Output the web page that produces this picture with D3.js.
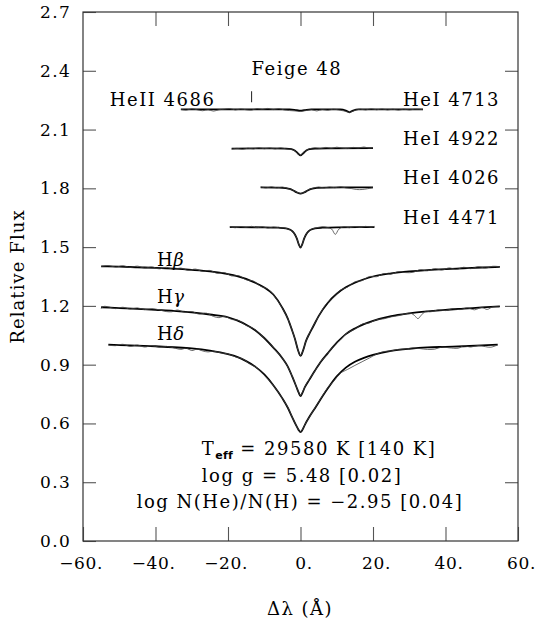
<!DOCTYPE html>
<html>
<head>
<meta charset="utf-8">
<script src="https://cdn.jsdelivr.net/npm/d3@7"></script>
<style>
body { margin: 0; background: #fff; }
text { font-family: "DejaVu Serif", serif; fill: #000; }
</style>
</head>
<body>
<svg id="chart" width="539" height="623"></svg>
<script>
// axis values
const xTicks = [-60, -40, -20, 0, 20, 40, 60];
const xTickLabels = ["\u221260.", "\u221240.", "\u221220.", "0.", "20.", "40.", "60."];
const yTicks = [0, 0.3, 0.6, 0.9, 1.2, 1.5, 1.8, 2.1, 2.4, 2.7];
const yTickLabels = ["0.0", "0.3", "0.6", "0.9", "1.2", "1.5", "1.8", "2.1", "2.4", "2.7"];

// HeII 4686 (offset 2.2)
const heII4686Model = [[-33,2.203],[-3,2.203],[-1,2.199],[0,2.197],[1,2.199],[3,2.203],[11,2.203],[12.5,2.197],[13.5,2.188],[14.5,2.197],[16,2.203],[33.8,2.203]];
const heII4686Obs = [[-33,2.203],[-31.5,2.199],[-30,2.206],[-28.5,2.201],[-27,2.196],[-25.5,2.201],[-24,2.194],[-22.5,2.201],[-21,2.204],[-19.5,2.207],[-18,2.2],[-16.5,2.205],[-15,2.201],[-13.5,2.199],[-12,2.207],[-10.5,2.203],[-9,2.208],[-7.5,2.202],[-6,2.207],[-4.5,2.2],[-3,2.197],[-1.5,2.195],[0,2.192],[1.5,2.197],[3,2.201],[4.5,2.195],[6,2.202],[7.5,2.198],[9,2.204],[10.5,2.2],[12,2.195],[13.5,2.188],[15,2.198],[16.5,2.204],[18,2.2],[19.5,2.206],[21,2.201],[22.5,2.205],[24,2.2],[25.5,2.204],[27,2.199],[28.5,2.204],[30,2.2],[31.5,2.204],[33.8,2.202]];
const heII4686Marker = [-13.5, 2.24, 2.295];

// HeI 4922 (offset 2.0)
const heI4922Model = [[-19,2.003],[-8,2.004],[-4,2.003],[-2.5,2.0],[-1.5,1.992],[-0.7,1.978],[0,1.968],[0.7,1.978],[1.5,1.992],[2.5,2.0],[4,2.003],[8,2.004],[20,2.005]];
const heI4922Obs = [[-19,2.0],[-17.5,2.004],[-16,1.999],[-14.5,2.005],[-13,2.001],[-11.5,2.007],[-10,2.002],[-8.5,2.006],[-7,2.001],[-5.5,2.007],[-4,2.001],[-2.5,1.998],[-1.5,1.991],[-0.7,1.977],[0,1.969],[0.7,1.979],[1.5,1.993],[2.5,2.002],[4,2.007],[5.5,2.003],[7,2.009],[8.5,2.004],[10,2.01],[11.5,2.005],[13,2.003],[14.5,2.009],[16,2.006],[17.5,2.011],[19,2.005],[20,2.007]];

// HeI 4026 (offset 1.8)
const heI4026Model = [[-11,1.805],[-6,1.804],[-4,1.801],[-3,1.797],[-2,1.789],[-1,1.779],[0,1.773],[1,1.779],[2,1.789],[3,1.797],[4.5,1.802],[7,1.804],[20,1.805]];
const heI4026Obs = [[-11,1.807],[-9.5,1.802],[-8,1.808],[-6.5,1.802],[-5,1.807],[-3.5,1.799],[-2,1.79],[-1,1.78],[0,1.774],[1,1.778],[2,1.791],[3.5,1.801],[5,1.807],[6.5,1.802],[8,1.807],[9.5,1.803],[11,1.808],[12.5,1.802],[14,1.799],[15.5,1.794],[17,1.794],[18.5,1.798],[20,1.803]];

// HeI 4471 (offset 1.6)
const heI4471Model = [[-19.5,1.602],[-10,1.601],[-6,1.599],[-4,1.596],[-3,1.59],[-2.2,1.58],[-1.5,1.563],[-1,1.543],[-0.5,1.515],[0,1.498],[0.5,1.515],[1,1.543],[1.5,1.563],[2.2,1.58],[3,1.59],[4,1.596],[6,1.599],[10,1.601],[20.4,1.602]];
const heI4471Obs = [[-19.5,1.604],[-18,1.599],[-16.5,1.605],[-15,1.601],[-13.5,1.606],[-12,1.599],[-10.5,1.604],[-9,1.597],[-7.5,1.603],[-6,1.599],[-4.5,1.598],[-3,1.589],[-2.2,1.579],[-1.5,1.562],[-1,1.544],[-0.5,1.516],[0,1.499],[0.5,1.514],[1,1.545],[1.5,1.564],[2.2,1.582],[3,1.591],[4.5,1.599],[6,1.604],[7.5,1.6],[8.6,1.592],[9.6,1.565],[10.6,1.592],[12,1.604],[13.5,1.599],[15,1.605],[16.5,1.6],[18,1.606],[19.5,1.601],[20.4,1.606]];

// H beta (offset 1.4)
const hBetaModel = [[-55,1.402],[-50,1.4],[-45,1.397],[-40,1.394],[-35,1.39],[-30,1.384],[-25,1.376],[-20,1.362],[-17.5,1.352],[-15,1.338],[-12.5,1.318],[-10,1.294],[-7.5,1.258],[-5,1.19],[-3.5,1.135],[-2.5,1.085],[-1.5,1.03],[-0.7,0.975],[0,0.945],[0.7,0.972],[1.5,1.02],[2.5,1.06],[3.5,1.095],[5,1.148],[7.5,1.215],[10,1.262],[12.5,1.295],[15,1.318],[17.5,1.336],[20,1.35],[25,1.366],[30,1.376],[35,1.383],[40,1.388],[45,1.392],[50,1.396],[55,1.399]];
const hBetaObs = [[-55,1.401],[-53,1.406],[-51,1.398],[-49,1.405],[-47,1.396],[-45,1.403],[-43,1.393],[-41,1.399],[-39,1.389],[-37,1.397],[-35,1.387],[-33,1.393],[-31,1.381],[-29,1.388],[-27,1.376],[-25,1.381],[-23,1.366],[-21,1.37],[-19,1.353],[-17,1.354],[-15,1.333],[-13,1.327],[-11,1.3],[-9,1.286],[-7,1.244],[-5,1.188],[-3.5,1.135],[-2.5,1.085],[-1.5,1.03],[-0.7,0.975],[0,0.947],[0.7,0.972],[1.5,1.02],[2.5,1.062],[3.5,1.098],[5,1.146],[7,1.208],[9,1.241],[11,1.28],[13,1.296],[15,1.323],[17,1.329],[19,1.35],[21,1.349],[23,1.365],[25,1.362],[27,1.375],[29,1.37],[31,1.371],[33,1.385],[35,1.379],[37,1.39],[39,1.383],[41,1.394],[43,1.386],[45,1.397],[47,1.39],[49,1.4],[51,1.393],[53,1.402],[55,1.4]];

// H gamma (offset 1.2)
const hGammaModel = [[-55,1.193],[-50,1.189],[-45,1.185],[-40,1.18],[-35,1.175],[-30,1.167],[-25,1.156],[-20,1.142],[-17.5,1.126],[-15,1.104],[-12.5,1.076],[-10,1.036],[-7.5,0.987],[-5,0.933],[-3.5,0.89],[-2.3,0.84],[-1.2,0.79],[-0.5,0.757],[0,0.739],[0.5,0.755],[1.2,0.785],[2.5,0.825],[4,0.87],[5.5,0.912],[7.5,0.958],[10,1.012],[12.5,1.056],[15,1.085],[17.5,1.107],[20,1.124],[25,1.148],[30,1.162],[35,1.172],[40,1.18],[45,1.186],[50,1.192],[55,1.198]];
const hGammaObs = [[-55,1.186],[-54.3,1.197],[-53,1.195],[-51,1.186],[-49,1.193],[-47,1.184],[-45,1.19],[-43,1.181],[-41,1.186],[-39,1.18],[-37,1.171],[-35.5,1.17],[-34,1.179],[-32,1.168],[-30,1.171],[-28,1.158],[-26,1.163],[-24,1.146],[-22.5,1.14],[-21,1.146],[-19,1.131],[-17,1.125],[-15,1.1],[-13,1.085],[-11,1.052],[-9,1.021],[-7,0.975],[-5,0.934],[-3.5,0.888],[-2.3,0.842],[-1.2,0.79],[-0.5,0.758],[0,0.741],[0.5,0.757],[1.2,0.787],[2.5,0.828],[4,0.868],[5.5,0.914],[7.5,0.955],[9,0.995],[11,1.026],[13,1.064],[15,1.081],[17,1.107],[19,1.113],[21,1.13],[23,1.134],[25,1.144],[27,1.15],[29,1.16],[30.5,1.162],[31.5,1.15],[32.4,1.135],[33.3,1.152],[34.5,1.172],[36,1.17],[38,1.18],[40,1.176],[42,1.186],[44,1.181],[46,1.19],[48,1.18],[50,1.192],[51.5,1.182],[53,1.195],[54.8,1.195]];

// H delta (offset 1.0)
const hDeltaModel = [[-53,1.002],[-50,1.0],[-45,0.997],[-40,0.994],[-35,0.989],[-30,0.983],[-25,0.972],[-20,0.954],[-17.5,0.94],[-15,0.918],[-12.5,0.89],[-10,0.85],[-7.5,0.795],[-5,0.728],[-3.5,0.68],[-2.3,0.632],[-1.2,0.59],[-0.5,0.566],[0,0.556],[0.5,0.566],[1.2,0.593],[2.5,0.635],[4,0.678],[5.5,0.722],[7.5,0.778],[10,0.84],[12.5,0.885],[15,0.915],[17.5,0.935],[20,0.95],[25,0.97],[30,0.981],[35,0.988],[40,0.991],[45,0.994],[50,0.998],[54.4,1.002]];
const hDeltaObs = [[-53,1.0],[-51,0.997],[-49,1.004],[-47,0.993],[-45,1.0],[-43,0.99],[-41,0.997],[-39,0.989],[-37,0.993],[-35,0.986],[-33,0.978],[-31.5,0.984],[-30,0.972],[-28.5,0.979],[-27,0.97],[-25.5,0.965],[-24,0.969],[-22,0.96],[-20,0.955],[-18,0.94],[-16,0.93],[-14,0.904],[-12,0.884],[-10,0.846],[-8,0.806],[-6,0.756],[-5,0.728],[-3.5,0.682],[-2.3,0.633],[-1.2,0.59],[-0.5,0.567],[0,0.557],[0.5,0.567],[1.2,0.594],[2.5,0.634],[4,0.68],[5.5,0.724],[7.5,0.782],[9,0.813],[11,0.856],[13,0.876],[15,0.896],[17,0.915],[19,0.934],[21,0.954],[23,0.967],[25,0.97],[27,0.978],[29,0.98],[31,0.986],[33,0.982],[35,0.978],[37,0.979],[39,0.99],[41,0.986],[43.5,0.984],[45,0.996],[47,0.99],[49,0.998],[51,0.992],[52.5,0.989],[54.4,1.001]];

const heLabels = ["HeI 4713", "HeI 4922", "HeI 4026", "HeI 4471"];
const heLabelFlux = [2.218, 2.02, 1.82, 1.616];
const balmerNames = ["\u03b2", "\u03b3", "\u03b4"];
const balmerLabelFlux = [1.405, 1.217, 1.027];
const fitResults = ["29580 K [140 K]", "5.48 [0.02]", "\u22122.95 [0.04]"];

const svg = d3.select("#chart");
const frame = { left: 83, right: 518, top: 12, bottom: 541 };

const x = d3.scaleLinear().domain([-60, 60]).range([frame.left, frame.right]);
const y = d3.scaleLinear().domain([0, 2.7]).range([frame.bottom, frame.top]);

// ticks (all drawn inward)
const tickColour = "#555";
const bottomAxis = svg.append("g")
    .attr("transform", `translate(0,${frame.bottom})`)
    .call(d3.axisBottom(x).tickValues(xTicks).tickSize(-14).tickPadding(16)
        .tickFormat((d, i) => xTickLabels[i]));
svg.append("g")
    .attr("transform", `translate(0,${frame.top})`)
    .call(d3.axisTop(x).tickValues(xTicks.slice(1, -1)).tickSize(-14).tickFormat(""));
svg.append("g")
    .attr("transform", `translate(${frame.left},0)`)
    .call(d3.axisLeft(y).tickValues(yTicks).tickSize(-13).tickPadding(12)
        .tickFormat((d, i) => yTickLabels[i]));
svg.append("g")
    .attr("transform", `translate(${frame.right},0)`)
    .call(d3.axisRight(y).tickValues(yTicks.slice(1, -1)).tickSize(-13).tickFormat(""));

svg.selectAll(".domain").remove();
svg.selectAll(".tick line").attr("stroke", tickColour).attr("stroke-width", 1.1);
svg.selectAll(".tick text")
    .attr("font-family", "DejaVu Serif")
    .attr("font-size", 17)
    .attr("letter-spacing", 1.3)
    .attr("fill", "#000");

// x labels: centre the digits on the tick, sign hanging left, period right
bottomAxis.selectAll(".tick text")
    .attr("letter-spacing", 0.6)
    .each(function(d, i) {
        const el = this;
        const s = xTickLabels[i];
        const signed = s[0] === "\u2212";
        const nDigits = s.length - 1 - (signed ? 1 : 0);
        d3.select(el).attr("text-anchor", "start").attr("x", 0);
        const signW = signed ? el.getSubStringLength(0, 1) : 0;
        const digW = el.getSubStringLength(signed ? 1 : 0, nDigits);
        d3.select(el).attr("x", -signW - digW / 2 + (signed ? 2 : 0));
    });

svg.append("rect")
    .attr("x", frame.left).attr("y", frame.top)
    .attr("width", frame.right - frame.left).attr("height", frame.bottom - frame.top)
    .attr("fill", "none").attr("stroke", "#333").attr("stroke-width", 1.2);

// spectra
const spectra = [
    { model: heII4686Model, obs: heII4686Obs },
    { model: heI4922Model, obs: heI4922Obs },
    { model: heI4026Model, obs: heI4026Obs },
    { model: heI4471Model, obs: heI4471Obs },
    { model: hBetaModel, obs: hBetaObs },
    { model: hGammaModel, obs: hGammaObs },
    { model: hDeltaModel, obs: hDeltaObs }
];

const modelLine = d3.line().x(d => x(d[0])).y(d => y(d[1])).curve(d3.curveMonotoneX);
const obsLine = d3.line().x(d => x(d[0])).y(d => y(d[1])).curve(d3.curveCatmullRom.alpha(0.5));

const spectraArea = svg.append("g");
spectraArea.selectAll(".model")
    .data(spectra)
    .join("path")
    .attr("class", "model")
    .attr("fill", "none")
    .attr("stroke", "#000")
    .attr("stroke-width", 1.8)
    .attr("stroke-linejoin", "round")
    .attr("d", d => modelLine(d.model));
spectraArea.selectAll(".obs")
    .data(spectra)
    .join("path")
    .attr("class", "obs")
    .attr("fill", "none")
    .attr("stroke", "#444")
    .attr("stroke-width", 0.8)
    .attr("d", d => obsLine(d.obs));

svg.append("line")
    .attr("x1", x(heII4686Marker[0])).attr("x2", x(heII4686Marker[0]))
    .attr("y1", y(heII4686Marker[1])).attr("y2", y(heII4686Marker[2]))
    .attr("stroke", "#333").attr("stroke-width", 1.1);

// annotations
const ann = svg.append("g")
    .attr("font-size", 18)
    .attr("letter-spacing", 1.5);

ann.append("text")
    .attr("x", x(-1)).attr("y", 75)
    .attr("text-anchor", "middle")
    .text("Feige 48");

ann.append("text")
    .attr("x", x(-52.6)).attr("y", y(2.218))
    .text("HeII 4686");

ann.selectAll(".he-label")
    .data(heLabels)
    .join("text")
    .attr("class", "he-label")
    .attr("x", x(28.3))
    .attr("y", (d, i) => y(heLabelFlux[i]))
    .text(d => d);

const bl = ann.selectAll(".balmer-label")
    .data(balmerNames)
    .join("text")
    .attr("class", "balmer-label")
    .attr("x", x(-39.6))
    .attr("y", (d, i) => y(balmerLabelFlux[i]))
    .attr("letter-spacing", 0.5);
bl.append("tspan").text("H");
bl.append("tspan").attr("font-style", "italic").text(d => d);

// fit results
const t1 = ann.append("text")
    .attr("x", 319).attr("y", 455)
    .attr("text-anchor", "middle");
t1.append("tspan").text("T");
t1.append("tspan")
    .attr("font-family", "DejaVu Sans")
    .attr("font-weight", "bold")
    .attr("font-size", 11)
    .attr("letter-spacing", 0.3)
    .attr("dy", 4)
    .text("eff");
t1.append("tspan").attr("dy", -4).text(" = " + fitResults[0]);

ann.append("text")
    .attr("x", 302).attr("y", 482)
    .attr("text-anchor", "middle")
    .text("log g = " + fitResults[1]);

ann.append("text")
    .attr("x", 300).attr("y", 508)
    .attr("text-anchor", "middle")
    .text("log N(He)/N(H) = " + fitResults[2]);

// axis titles
ann.append("text")
    .attr("x", 300).attr("y", 615)
    .attr("text-anchor", "middle")
    .text("\u0394\u03bb (\u00c5)");

ann.append("text")
    .attr("transform", `translate(24,${(frame.top + frame.bottom) / 2}) rotate(-90)`)
    .attr("text-anchor", "middle")
    .attr("font-size", 18)
    .attr("letter-spacing", 1.1)
    .text("Relative Flux");
</script>
</body>
</html>
